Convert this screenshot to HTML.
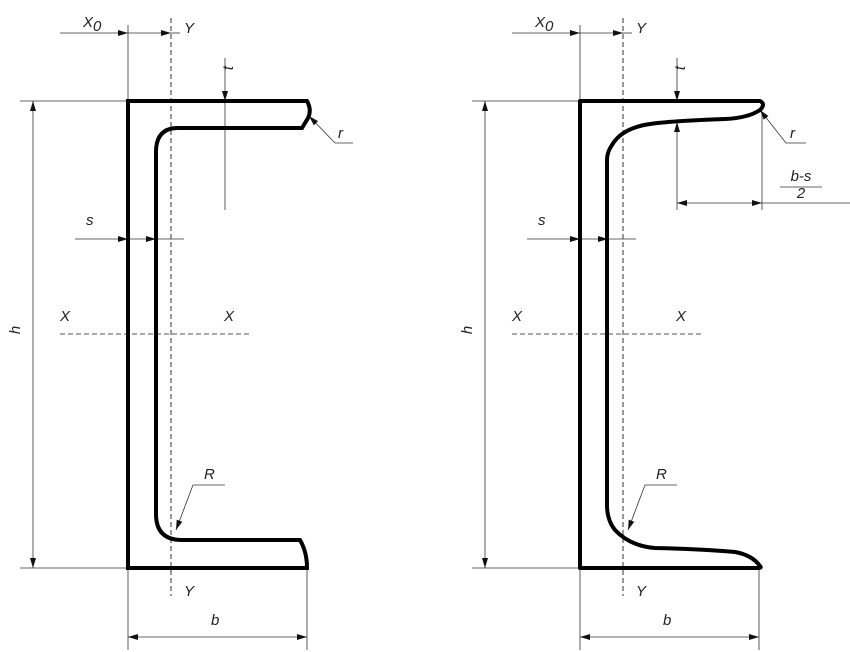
<!DOCTYPE html>
<html><head><meta charset="utf-8"><style>
html,body{margin:0;padding:0;background:#fff}
svg{display:block}
text{font-family:"Liberation Sans",sans-serif;font-style:italic;fill:#222;font-size:15px}
</style></head><body>
<svg width="850" height="652" viewBox="0 0 850 652" xmlns="http://www.w3.org/2000/svg">
<defs>
<marker id="a" viewBox="0 0 10 6" refX="10" refY="3" markerWidth="10" markerHeight="6" orient="auto-start-reverse" markerUnits="userSpaceOnUse"><path d="M0,0L10,3L0,6z" fill="#111"/></marker>
<g id="common">
 <line x1="171" y1="18" x2="171" y2="596" stroke="#333" stroke-width="1" stroke-dasharray="5,3"/>
 <line x1="60" y1="334" x2="252" y2="334" stroke="#555" stroke-width="1" stroke-dasharray="5,3"/>
 <g stroke="#333" stroke-width="0.8" fill="none">
  <line x1="128" y1="25" x2="128" y2="101"/>
  <line x1="128" y1="568" x2="128" y2="650"/>
  <line x1="20" y1="101" x2="128" y2="101"/>
  <line x1="20" y1="568" x2="128" y2="568"/>
  <line x1="33" y1="101" x2="33" y2="568" marker-start="url(#a)" marker-end="url(#a)"/>
  <line x1="60" y1="33" x2="128" y2="33" marker-end="url(#a)"/>
  <line x1="128" y1="33" x2="171" y2="33" marker-end="url(#a)"/>
  <line x1="171" y1="33" x2="180" y2="33"/>
  <line x1="75" y1="239" x2="128" y2="239" marker-end="url(#a)"/>
  <line x1="128" y1="239" x2="156" y2="239" marker-end="url(#a)"/>
  <line x1="156" y1="239" x2="184" y2="239"/>
  <line x1="128" y1="637" x2="307" y2="637" marker-start="url(#a)" marker-end="url(#a)"/>
  <polyline points="176,530 193,485 225,485" marker-start="url(#a)"/>
 </g>
 <text x="83" y="27">X</text><text x="93" y="31" font-size="10">0</text>
 <text x="184" y="33">Y</text>
 <text x="184" y="596">Y</text>
 <text x="86" y="225">s</text>
 <text x="60" y="321">X</text>
 <text x="224" y="321">X</text>
 <text x="204" y="479">R</text>
 <text x="211" y="625">b</text>
 <text transform="translate(20,330) rotate(-90)" text-anchor="middle">h</text>
</g>
</defs>

<use href="#common"/>
<use href="#common" transform="translate(452,0)"/>

<g stroke="#333" stroke-width="0.8" fill="none">
 <line x1="307" y1="568" x2="307" y2="650"/>
 <line x1="225" y1="58" x2="225" y2="101" marker-end="url(#a)"/>
 <line x1="225" y1="101" x2="225" y2="210"/>
 <polyline points="309,116 335,143 353,143" marker-start="url(#a)"/>
</g>
<text transform="translate(233,68) rotate(-90)" text-anchor="middle">t</text>
<text x="338" y="138">r</text>
<path d="M128,101 H307 Q312,110 308,118 L302,128 H178 Q156,128 156,152 V514 Q156,540 182,540 H300 Q307,552 307,568 H128 Z" fill="none" stroke="#000" stroke-width="4" stroke-linejoin="miter"/>

<g stroke="#333" stroke-width="0.8" fill="none">
 <line x1="759" y1="568" x2="759" y2="650"/>
 <line x1="677" y1="58" x2="677" y2="101" marker-end="url(#a)"/>
 <line x1="677" y1="150" x2="677" y2="122" marker-end="url(#a)"/>
 <line x1="677" y1="150" x2="677" y2="210"/>
 <line x1="762" y1="112" x2="762" y2="210"/>
 <line x1="677" y1="203" x2="762" y2="203" marker-start="url(#a)" marker-end="url(#a)"/>
 <line x1="762" y1="203" x2="850" y2="203"/>
 <polyline points="760,110 786,143 806,143" marker-start="url(#a)"/>
 <line x1="780" y1="187" x2="822" y2="187"/>
</g>
<text transform="translate(685,68) rotate(-90)" text-anchor="middle">t</text>
<text x="790" y="138">r</text>
<text x="801" y="181" text-anchor="middle">b-s</text>
<text x="801" y="198" text-anchor="middle" font-style="normal">2</text>
<path d="M580,101 H760 Q766,104 760,110 Q748,118 725,119 Q670,121 650,124 Q622,128 612,145 Q607,152 607,160 V505 Q607,520 615,530 Q630,546 655,548 Q700,549 735,552 Q752,555 760,566 Q762,568 758,568 H580 Z" fill="none" stroke="#000" stroke-width="4" stroke-linejoin="round"/>
</svg>
</body></html>
